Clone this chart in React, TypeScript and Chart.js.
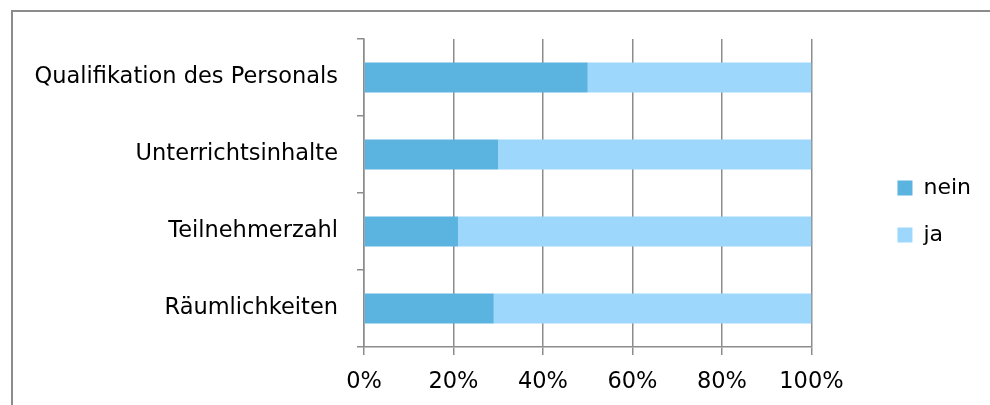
import React, { useEffect, useRef } from "react";
import { Chart, registerables } from "chart.js";

Chart.register(...registerables);

const categories = [
  "Qualifikation des Personals",
  "Unterrichtsinhalte",
  "Teilnehmerzahl",
  "Räumlichkeiten",
];
const neinValues = [50, 30, 21, 29];
const jaValues = [50, 70, 79, 71];
const xTicks = [0, 20, 40, 60, 80, 100];

const FONT = "'DejaVu Sans', sans-serif";
const GRID = "#8c8c8c";

const framePlugin = {
  id: "frame",
  beforeDraw(chart: any) {
    const ctx = chart.ctx;
    ctx.save();
    ctx.strokeStyle = GRID;
    ctx.lineWidth = 2;
    ctx.beginPath();
    ctx.moveTo(12, chart.height + 5);
    ctx.lineTo(12, 11);
    ctx.lineTo(chart.width + 5, 11);
    ctx.stroke();
    ctx.restore();
  },
};

export default function App() {
  const ref = useRef<HTMLCanvasElement | null>(null);

  useEffect(() => {
    if (!ref.current) return;
    const chart = new Chart(ref.current, {
      type: "bar",
      data: {
        labels: categories,
        datasets: [
          {
            label: "nein",
            data: neinValues,
            backgroundColor: "#5bb3e0",
            borderWidth: 0,
            categoryPercentage: 0.5,
            barPercentage: 0.78,
          },
          {
            label: "ja",
            data: jaValues,
            backgroundColor: "#9dd8fc",
            borderWidth: 0,
            categoryPercentage: 0.5,
            barPercentage: 0.78,
          },
        ],
      },
      plugins: [framePlugin],
      options: {
        indexAxis: "y",
        responsive: false,
        animation: false,
        layout: { padding: { top: 39, bottom: 0, left: 0, right: 9 } },
        plugins: {
          tooltip: { enabled: false },
          legend: {
            position: "right",
            align: "start",
            title: {
              display: true,
              text: "",
              font: { size: 10, lineHeight: 1 },
              padding: { top: 103, bottom: 0 },
            },
            labels: {
              boxWidth: 15,
              boxHeight: 15,
              padding: 25,
              color: "#000",
              font: { family: FONT, size: 22 },
            },
          },
        },
        scales: {
          x: {
            type: "linear",
            stacked: true,
            min: 0,
            max: 100,
            afterBuildTicks: (s: any) => {
              s.ticks = xTicks.map((v) => ({ value: v }));
            },
            afterFit: (s: any) => {
              s.height = 58;
            },
            ticks: {
              color: "#000",
              padding: 14,
              font: { family: FONT, size: 22.5 },
              callback: (v: any) => v + "%",
            },
            grid: {
              color: GRID,
              lineWidth: 1.5,
              tickLength: 8,
              drawOnChartArea: true,
            },
            border: { color: GRID, width: 1.5 },
          },
          y: {
            type: "category",
            stacked: true,
            afterFit: (s: any) => {
              s.width = 364;
            },
            ticks: {
              color: "#000",
              padding: 19,
              font: { family: FONT, size: 22.5 },
            },
            grid: {
              offset: true,
              drawOnChartArea: false,
              drawTicks: true,
              tickLength: 7,
              color: GRID,
              lineWidth: 1.5,
            },
            border: { color: GRID, width: 1.5 },
          },
          spacer: {
            type: "linear",
            position: "right",
            display: true,
            grid: { display: false },
            ticks: { display: false },
            border: { display: false },
            afterFit: (s: any) => {
              s.width = 61;
            },
          },
        },
      },
    });
    return () => chart.destroy();
  }, []);

  return (
    <div
      style={{
        position: "fixed",
        left: 0,
        top: 0,
        width: 990,
        height: 405,
        overflow: "hidden",
        background: "#fff",
      }}
    >
      <canvas
        ref={ref}
        width={990}
        height={405}
        style={{ position: "absolute", left: 0, top: 0, width: 990, height: 405 }}
      />
    </div>
  );
}
